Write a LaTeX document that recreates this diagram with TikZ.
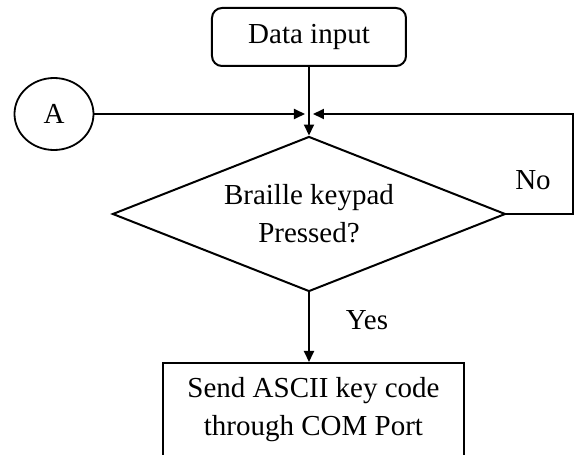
\documentclass[tikz,border=0pt]{standalone}
\usepackage{fontspec}
\setmainfont{Liberation Serif}
\usetikzlibrary{shapes.geometric,arrows.meta}

\tikzset{
  startbox/.style={draw,line width=1pt,rounded corners=5pt,
    minimum width=97pt,minimum height=29pt},
  connector/.style={draw,line width=0.9pt,ellipse,inner sep=0pt,
    minimum width=39.5pt,minimum height=36pt},
  decision/.style={draw,line width=1pt,diamond,aspect=2.5,inner sep=0pt,
    align=center,minimum width=196.5pt,minimum height=77.5pt},
  process/.style={draw,line width=1pt,align=center,
    minimum width=150.5pt,minimum height=47pt},
  arr/.style={line width=1pt,-{Triangle[length=5.5pt,width=5pt]}}
}

\begin{document}
\begin{tikzpicture}[x=0.5pt,y=-0.5pt,
    every node/.append style={font=\fontsize{14.5}{19}\selectfont}]
				\clip (0,0) rectangle (575,455);
				% nodes
				\node[startbox] (start) at (309,37) {Data input};
				\node[connector] (A) at (54,114) {A};
				\node[decision] (dec) at (309,214) {Braille keypad\\Pressed?};
				\node[process] (send) at (313.5,410) {Send ASCII key code\\through COM Port};
				\coordinate (j) at (309,114);
				\coordinate (loop) at (573,114);
				% connectors
				\draw[arr] (start) -- (dec);
				\draw[arr,shorten >=2pt] (A) -- (j);
				\draw[arr,shorten >=2pt] (dec.east) -| (loop) -- (j);
				\draw[arr] (dec.south) -- (dec.south |- send.north);
				% labels
				\node (no) at (533,180) {No};
				\node (yes) at (367,320) {Yes};
			\end{tikzpicture}
\end{document}
